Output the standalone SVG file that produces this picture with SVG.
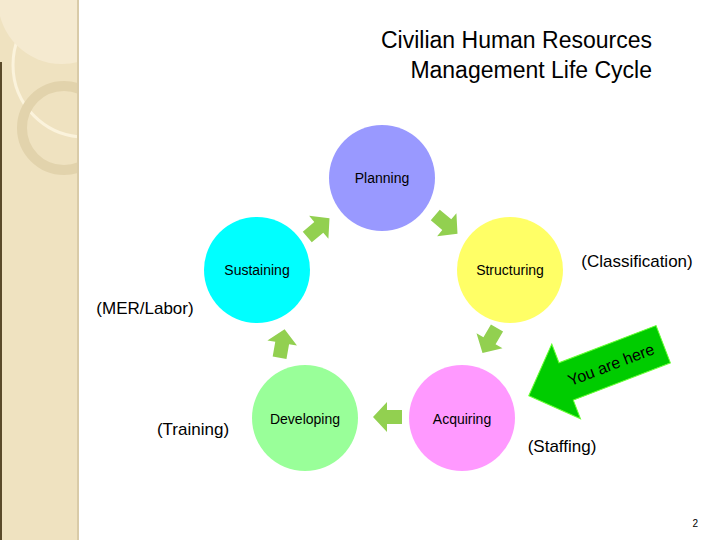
<svg xmlns="http://www.w3.org/2000/svg" width="720" height="540" viewBox="0 0 720 540">
<style>
text{font-family:"Liberation Sans",Arial,sans-serif;fill:#000}
.lbl{font-size:14px;text-anchor:middle}
.side{font-size:17px;text-anchor:middle}
.ar{fill:#92d050}
</style>
<defs>
<polygon id="blk" points="-14,-7 1,-7 1,-15 15,0 1,15 1,7 -14,7"/>
<clipPath id="strip"><rect x="0" y="0" width="78" height="540"/></clipPath>
</defs>
<rect width="720" height="540" fill="#fff"/>
<rect x="0" y="0" width="78" height="540" fill="#efe2c0"/>
<g clip-path="url(#strip)">
<circle cx="85" cy="65" r="72" fill="none" stroke="#fbf3dc" stroke-width="3"/>
<circle cx="62" cy="0" r="64" fill="#f5ead0"/>
<circle cx="64" cy="128" r="42" fill="none" stroke="#e2d3ac" stroke-width="10"/>
</g>
<rect x="77" y="0" width="2" height="540" fill="#d9cba8"/>
<rect x="0" y="62" width="2" height="478" fill="#5a4a2a"/>
<g id="title"><text x="652" y="48" font-size="23" text-anchor="end">Civilian Human Resources</text><text x="652" y="78" font-size="23" text-anchor="end">Management Life Cycle</text></g>
<g id="planning"><circle cx="382" cy="178" r="53" fill="#9999ff"/><text class="lbl" x="382" y="183">Planning</text></g>
<g id="structuring"><circle cx="510" cy="270" r="53" fill="#ffff66"/><text class="lbl" x="510" y="275">Structuring</text></g>
<g id="acquiring"><circle cx="462" cy="418" r="53" fill="#ff99ff"/><text class="lbl" x="462" y="424">Acquiring</text></g>
<g id="developing"><circle cx="305" cy="418" r="53" fill="#99ff99"/><text class="lbl" x="305" y="424">Developing</text></g>
<g id="sustaining"><circle cx="257" cy="270" r="53" fill="#00ffff"/><text class="lbl" x="257" y="275">Sustaining</text></g>
<g id="connectors">
<use href="#blk" class="ar" transform="translate(446,224) rotate(40)"/>
<use href="#blk" class="ar" transform="translate(490,340) rotate(120)"/>
<use href="#blk" class="ar" transform="translate(388,417) rotate(180)"/>
<use href="#blk" class="ar" transform="translate(282,344) rotate(-80)"/>
<use href="#blk" class="ar" transform="translate(318,228) rotate(-40)"/>
</g>
<g id="notes">
<text class="side" x="637" y="267">(Classification)</text>
<text class="side" x="145" y="314">(MER/Labor)</text>
<text class="side" x="193" y="435">(Training)</text>
<text class="side" x="562" y="452">(Staffing)</text>
<text x="698" y="527" font-size="10" text-anchor="end" fill="#888">2</text>
</g>
<g id="youarehere" transform="translate(596,370) rotate(-21)">
<polygon points="-72,0 -32,-40 -32,-20 72,-20 72,20 -32,20 -32,40" fill="#00cc00" stroke="#66ff33" stroke-width="1"/>
<text x="16" y="6" font-size="16" text-anchor="middle">You are here</text>
</g>
</svg>
